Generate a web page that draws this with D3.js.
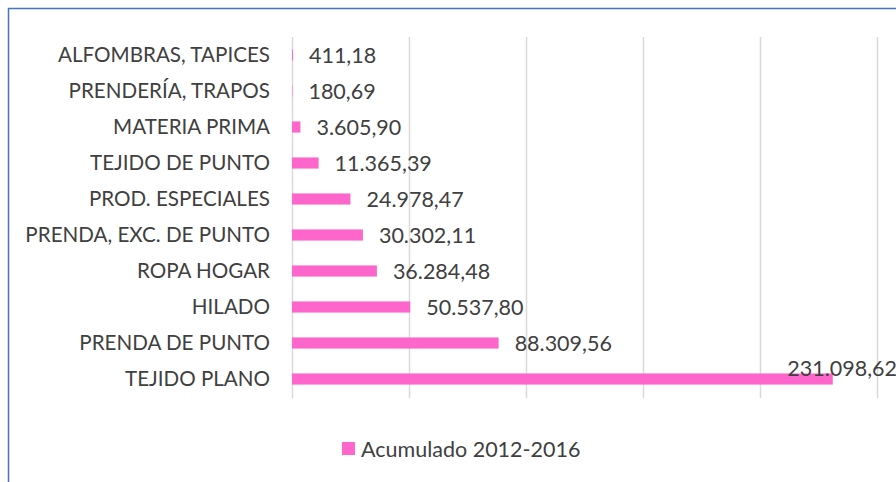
<!DOCTYPE html>
<html>
<head>
<meta charset="utf-8">
<script src="https://cdn.jsdelivr.net/npm/d3@7"></script>
<style>
  body { margin: 0; background: #fff; }
  text { font-family: Lato, "Open Sans", sans-serif; fill: #404040; }
</style>
</head>
<body>
<div id="visualization"></div>
<script>
// categories, top to bottom
var categories = ["ALFOMBRAS, TAPICES", "PRENDERÍA, TRAPOS", "MATERIA PRIMA", "TEJIDO DE PUNTO",
  "PROD. ESPECIALES", "PRENDA, EXC. DE PUNTO", "ROPA HOGAR", "HILADO", "PRENDA DE PUNTO", "TEJIDO PLANO"];
var values = [411.18, 180.69, 3605.90, 11365.39, 24978.47, 30302.11, 36284.48, 50537.80, 88309.56, 231098.62];
var valueLabels = ["411,18", "180,69", "3.605,90", "11.365,39", "24.978,47", "30.302,11",
  "36.284,48", "50.537,80", "88.309,56", "231.098,62"];
var xTicks = [0, 50000, 100000, 150000, 200000, 250000];
var seriesName = "Acumulado 2012-2016";

var data = categories.map(function(c, i) { return {cat: c, val: values[i], lab: valueLabels[i]}; });

var W = 896, H = 482;
var svg = d3.select("#visualization")
  .append("svg")
  .attr("width", W)
  .attr("height", H);

// chart frame (cut off at right and bottom)
svg.append("path")
  .attr("d", "M8.5," + H + "V8.5H" + W)
  .attr("fill", "none")
  .attr("stroke", "#4472C4")
  .attr("stroke-width", 1.5);

var x = d3.scaleLinear()
  .domain([0, 250000])
  .range([292, 877]);

var y = d3.scaleBand()
  .domain(categories)
  .range([37, 397])
  .paddingInner(0.69)
  .paddingOuter(0.345);

// gridlines
svg.append("g")
  .selectAll("line")
  .data(xTicks)
  .enter()
  .append("line")
  .attr("x1", function(d) { return Math.round(x(d)) + 0.5; })
  .attr("x2", function(d) { return Math.round(x(d)) + 0.5; })
  .attr("y1", 37)
  .attr("y2", 398)
  .attr("stroke", "#d9d9d9")
  .attr("stroke-width", 1.5);

// category labels
var yAxis = svg.append("g")
  .attr("transform", "translate(292,0)")
  .call(d3.axisLeft(y).tickSize(0).tickPadding(22));
yAxis.select(".domain").remove();
yAxis.selectAll("text")
  .style("font-size", "20.6px")
  .style("font-family", "Lato, sans-serif")
  .attr("fill", "#404040");

// bars
svg.selectAll("myRect")
  .data(data)
  .enter()
  .append("rect")
  .attr("x", x(0))
  .attr("y", function(d) { return y(d.cat); })
  .attr("width", function(d) { return x(d.val) - x(0); })
  .attr("height", y.bandwidth())
  .attr("fill", "#FF66CC");

// value labels (the largest one sits above its bar, against the right edge)
svg.selectAll("valLab")
  .data(data)
  .enter()
  .append("text")
  .attr("x", function(d, i) { return i === data.length - 1 ? 897 : x(d.val) + 16; })
  .attr("y", function(d, i) {
    var c = y(d.cat) + y.bandwidth() / 2;
    return i === data.length - 1 ? c - 11 : c;
  })
  .attr("dy", "0.35em")
  .attr("text-anchor", function(d, i) { return i === data.length - 1 ? "end" : "start"; })
  .style("font-size", "21.5px")
  .text(function(d) { return d.lab; });

// legend
var leg = svg.append("g");
leg.append("rect")
  .attr("x", 342)
  .attr("y", 442)
  .attr("width", 13)
  .attr("height", 13)
  .attr("fill", "#FF66CC");
leg.append("text")
  .attr("x", 361)
  .attr("y", 449)
  .attr("dy", "0.35em")
  .style("font-size", "21.5px")
  .text(seriesName);
</script>
</body>
</html>
